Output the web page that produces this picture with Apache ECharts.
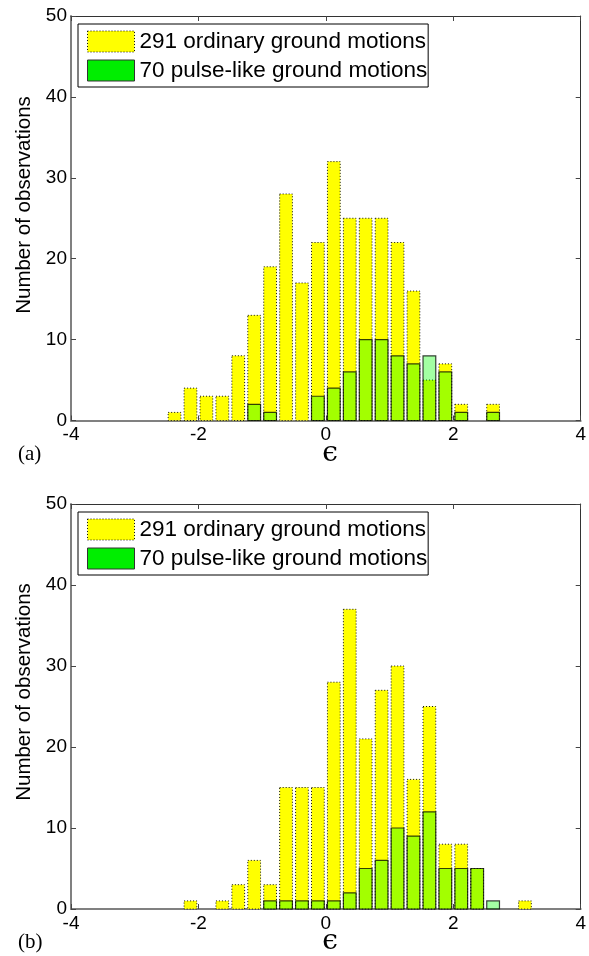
<!DOCTYPE html>
<html>
<head>
<meta charset="utf-8">
<script src="https://cdn.jsdelivr.net/npm/echarts@6/dist/echarts.min.js"></script>
<style>
html,body{margin:0;padding:0;background:#fff;}
#chart{width:589px;height:956px;}
</style>
</head>
<body>
<div id="chart"></div>
<script>
// Bin centres of the epsilon histogram (bin width 0.25)
const binCenters = [-2.375, -2.125, -1.875, -1.625, -1.375, -1.125, -0.875, -0.625, -0.375, -0.125,
                    0.125, 0.375, 0.625, 0.875, 1.125, 1.375, 1.625, 1.875, 2.125, 2.375, 2.625, 2.875, 3.125];
// Panel (a)
const ordinaryA = [1, 4, 3, 3, 8, 13, 19, 28, 17, 22, 32, 25, 25, 25, 22, 16, 5, 7, 2, 0, 2, 0, 0];
const pulseA    = [0, 0, 0, 0, 0, 2, 1, 0, 0, 3, 4, 6, 10, 10, 8, 7, 8, 6, 1, 0, 1, 0, 0];
// Panel (b)
const ordinaryB = [0, 1, 0, 1, 3, 6, 3, 15, 15, 15, 28, 37, 21, 27, 30, 16, 25, 8, 8, 5, 0, 0, 1];
const pulseB    = [0, 0, 0, 0, 0, 0, 1, 1, 1, 1, 1, 2, 5, 6, 10, 9, 12, 5, 5, 5, 1, 0, 0];

const xTicks = { min: -4, max: 4, interval: 2 };
const yTicks = { min: 0, max: 50, interval: 10 };
const nameOrd = '291 ordinary ground motions';
const namePulse = '70 pulse-like ground motions';
const panelLabels = ['(a)', '(b)'];
const xTitle = '\u03F5';
const yTitle = 'Number of observations';

const SANS = '"Liberation Sans", Arial, Helvetica, sans-serif';
const SERIF = '"Liberation Serif", "Times New Roman", serif';
const EPS_FONT = '"DejaVu Serif", "Liberation Serif", serif';
const HALF = 0.1; // half bar width in data units (0.8 of bin width)

const chart = echarts.init(document.getElementById('chart'), null, { renderer: 'canvas' });

function zip(vals) { return binCenters.map((c, i) => [c, vals[i]]); }

function barRenderer(kind) {
  return function (params, api) {
    const x = api.value(0), y = api.value(1);
    if (!y) return null;
    const p0 = api.coord([x - HALF, y]);
    const p1 = api.coord([x + HALF, 0]);
    const style = kind === 'ord'
      ? { fill: '#ffff00', stroke: '#111', lineWidth: 1, lineDash: [1, 2] }
      : { fill: 'rgba(0,255,0,0.36)', stroke: 'rgba(0,0,0,0.75)', lineWidth: 1.2 };
    return { type: 'rect', shape: { x: p0[0], y: p0[1], width: p1[0] - p0[0], height: p1[1] - p0[1] }, style: style };
  };
}

const grids = [
  { left: 71, right: 3, top: 16, height: 404.5 },
  { left: 71, right: 3, top: 504, height: 405 }
];

const xAxes = [], yAxes = [], series = [], legends = [], graphics = [];
const legendTops = [24, 512];
const yTitleCenters = [205, 692];
const xTitleY = [454, 942];
const labelY = [454, 942];

grids.forEach((g, gi) => {
  xAxes.push({
    gridIndex: gi, type: 'value', position: 'bottom', min: xTicks.min, max: xTicks.max, interval: xTicks.interval,
    axisLine: { show: true, onZero: false, lineStyle: { color: '#808080', width: 2 } },
    axisTick: { show: true, inside: true, length: 5, lineStyle: { color: '#444' } },
    axisLabel: { show: true, fontSize: 19, color: '#000', fontFamily: SANS, margin: 5 },
    splitLine: { show: false }
  });
  xAxes.push({
    gridIndex: gi, type: 'value', position: 'top', min: xTicks.min, max: xTicks.max, interval: xTicks.interval,
    axisLine: { show: true, onZero: false, lineStyle: { color: '#333', width: 1 } },
    axisTick: { show: true, inside: true, length: 5, lineStyle: { color: '#444' } },
    axisLabel: { show: false }, splitLine: { show: false }
  });
  yAxes.push({
    gridIndex: gi, type: 'value', position: 'left', min: yTicks.min, max: yTicks.max, interval: yTicks.interval,
    axisLine: { show: true, onZero: false, lineStyle: { color: '#808080', width: 2 } },
    axisTick: { show: true, inside: true, length: 5, lineStyle: { color: '#444' } },
    axisLabel: { show: true, fontSize: 19, color: '#000', fontFamily: SANS, margin: 4 },
    splitLine: { show: false }
  });
  yAxes.push({
    gridIndex: gi, type: 'value', position: 'right', min: yTicks.min, max: yTicks.max, interval: yTicks.interval,
    axisLine: { show: true, onZero: false, lineStyle: { color: '#333', width: 1 } },
    axisTick: { show: true, inside: true, length: 5, lineStyle: { color: '#444' } },
    axisLabel: { show: false }, splitLine: { show: false }
  });

  const ord = gi === 0 ? ordinaryA : ordinaryB;
  const pul = gi === 0 ? pulseA : pulseB;
  series.push({
    type: 'custom', name: nameOrd, xAxisIndex: gi * 2, yAxisIndex: gi * 2,
    renderItem: barRenderer('ord'), encode: { x: 0, y: 1 }, data: zip(ord),
    itemStyle: { color: '#ffff00', borderColor: '#111', borderWidth: 1, borderType: 'dotted' },
    silent: true, z: 2
  });
  series.push({
    type: 'custom', name: namePulse, xAxisIndex: gi * 2, yAxisIndex: gi * 2,
    renderItem: barRenderer('pulse'), encode: { x: 0, y: 1 }, data: zip(pul),
    itemStyle: { color: '#00ee00', borderColor: '#333', borderWidth: 1 },
    silent: true, z: 3
  });

  legends.push({
    orient: 'vertical', left: 78, top: legendTops[gi],
    padding: [6, 1, 5, 9], itemGap: 6, itemWidth: 47, itemHeight: 21,
    backgroundColor: '#fff', borderColor: '#000', borderWidth: 1,
    selectedMode: false,
    textStyle: { fontSize: 22.5, color: '#000', fontFamily: SANS, lineHeight: 21 },
    data: [
      { name: nameOrd, icon: 'rect', itemStyle: { color: '#ffff00', borderColor: '#111', borderWidth: 1, borderType: [1, 2] } },
      { name: namePulse, icon: 'rect', itemStyle: { color: '#00ee00', borderColor: '#333', borderWidth: 1 } }
    ]
  });

  graphics.push({
    type: 'text', x: 24, y: yTitleCenters[gi], rotation: Math.PI / 2,
    style: { text: yTitle, fontSize: 20.5, fontFamily: SANS, fill: '#000', align: 'center', verticalAlign: 'middle' }
  });
  graphics.push({
    type: 'text', x: 330, y: xTitleY[gi],
    style: { text: xTitle, fontSize: 28, fontFamily: EPS_FONT, fontWeight: 'normal', fill: '#000', align: 'center', verticalAlign: 'middle' }
  });
  graphics.push({
    type: 'text', x: 18, y: labelY[gi],
    style: { text: panelLabels[gi], fontSize: 21, fontFamily: SERIF, fill: '#000', align: 'left', verticalAlign: 'middle' }
  });
});

chart.setOption({
  animation: false,
  backgroundColor: '#fff',
  grid: grids,
  xAxis: xAxes,
  yAxis: yAxes,
  series: series,
  legend: legends,
  graphic: graphics
});
</script>
</body>
</html>
